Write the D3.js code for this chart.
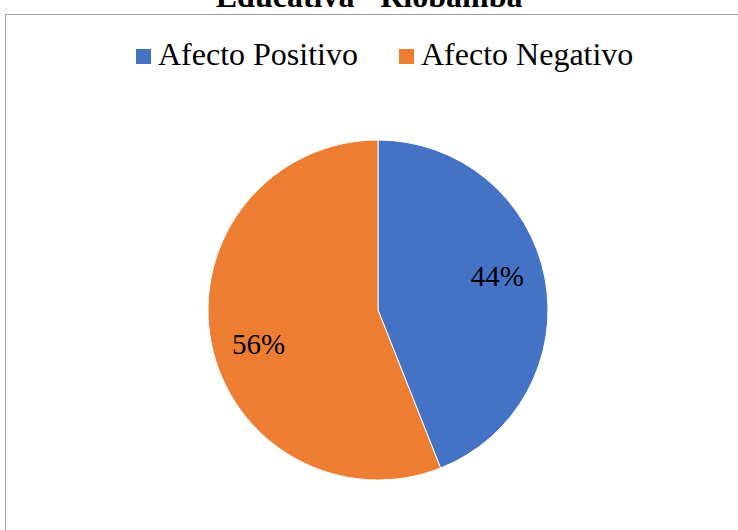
<!DOCTYPE html>
<html>
<head>
<meta charset="utf-8">
<script src="https://cdn.jsdelivr.net/npm/d3@7"></script>
<style>
  body { margin: 0; background: #fff; }
</style>
</head>
<body>
<div id="chart"></div>
<script>
const width = 738, height = 530;

const categories = ["Afecto Positivo", "Afecto Negativo"];
const values = [44, 56];
const colors = ["#4472C4", "#ED7D31"];
const titleText = "Educativa \"Riobamba\"";

const font = "'Liberation Serif', 'Times New Roman', serif";

const svg = d3.select("#chart")
  .append("svg")
  .attr("width", width)
  .attr("height", height)
  .style("font-family", font);

// chart frame (extends past the window on right and bottom)
svg.append("rect")
  .attr("x", 5.5)
  .attr("y", 14.5)
  .attr("width", 800)
  .attr("height", 600)
  .attr("fill", "none")
  .attr("stroke", "#a6a6a6")
  .attr("stroke-width", 1);

// title, only its lower part shows above the frame
svg.append("text")
  .attr("x", 378)
  .attr("y", 7)
  .attr("text-anchor", "middle")
  .style("font-family", font)
  .attr("font-size", "32px")
  .attr("font-weight", "bold")
  .text(titleText);

// legend
const legendX = [136, 399];
const legend = svg.selectAll(".legend")
  .data(categories)
  .enter()
  .append("g")
  .attr("transform", (d, i) => "translate(" + legendX[i] + ",49)");

legend.append("rect")
  .attr("width", 15)
  .attr("height", 15)
  .attr("fill", (d, i) => colors[i]);

legend.append("text")
  .attr("x", 22)
  .attr("y", 16)
  .style("font-family", font)
  .attr("font-size", "32px")
  .text(d => d);

// pie
const radius = 170;
const cx = 378, cy = 310;

const pie = d3.pie().sort(null).value(d => d);
const arc = d3.arc().innerRadius(0).outerRadius(radius);
const labelArc = d3.arc().innerRadius(radius * 0.73).outerRadius(radius * 0.73);

const g = svg.append("g").attr("transform", "translate(" + cx + "," + cy + ")");

const slices = pie(values);

g.selectAll("path")
  .data(slices)
  .enter()
  .append("path")
  .attr("d", arc)
  .attr("fill", (d, i) => colors[i])
  .attr("stroke", "#fff")
  .attr("stroke-width", 1);

// labels sit a little counter-clockwise of the slice middle, like Excel's best fit
const shift = -0.09;
g.selectAll(".lbl")
  .data(slices)
  .enter()
  .append("text")
  .attr("class", "lbl")
  .attr("transform", d => "translate(" + labelArc.centroid({
      startAngle: d.startAngle + shift, endAngle: d.endAngle + shift }) + ")")
  .attr("text-anchor", "middle")
  .attr("dominant-baseline", "central")
  .style("font-family", font)
  .attr("font-size", "29px")
  .text(d => d.data + "%");
</script>
</body>
</html>
